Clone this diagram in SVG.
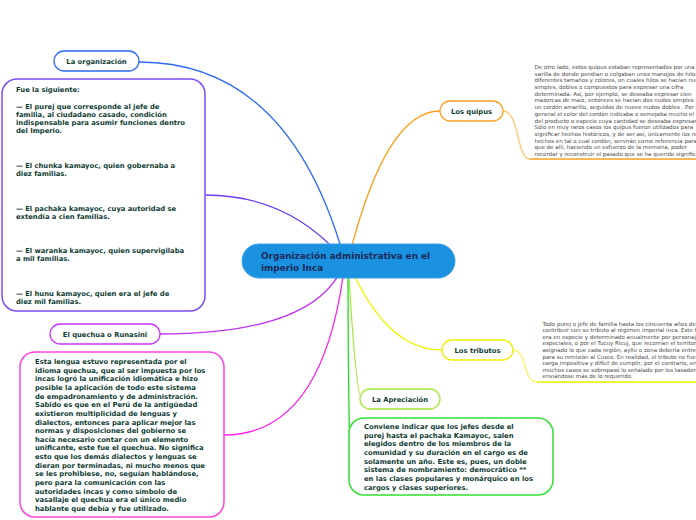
<svg xmlns="http://www.w3.org/2000/svg" width="696" height="520" viewBox="0 0 696 520">
<style>
.t{font-family:"DejaVu Sans",Verdana,sans-serif;font-weight:bold;font-size:6.8px;fill:#0f3d33}
.c{text-anchor:middle}
.r{font-family:"DejaVu Sans",Verdana,sans-serif;font-size:5.5px;fill:#4a4a4a}
.pill{fill:#fff;stroke-width:1.3}
.box{fill:#fff;stroke-width:1.5}
.ln{fill:none;stroke-width:1.3}
</style>
<rect width="696" height="520" fill="#fff"/>
<g id="connectors">
<path class="ln" d="M139 62 Q290 62 345 261" stroke="#2d6af5" stroke-width="1.5"/>
<path class="ln" d="M205 195 Q290 195 345 261" stroke="#6a3cf5"/>
<path class="ln" d="M160 334 Q320 334 345 261" stroke="#c030f0"/>
<path class="ln" d="M224 435 Q325 435 345 261" stroke="#ff22ee"/>
<path class="ln" d="M348 261 Q385 111 440 111" stroke="#ff9f1a"/>
<path class="ln" d="M503 111 C520 111 516 159 530 159" stroke="#ffc870"/>
<path class="ln" d="M530 159 L696 159" stroke="#ffa020" stroke-width="2"/>
<path class="ln" d="M348 261 Q385 350 442 350" stroke="#f2f200"/>
<path class="ln" d="M513 350 C528 350 522 382 537 382" stroke="#f5f560"/>
<path class="ln" d="M537 382 L696 382" stroke="#eeee00" stroke-width="2"/>
<path class="ln" d="M348 261 Q356 399 362 399" stroke="#a6e83a"/>
<path class="ln" d="M348 261 C348 350 349 420 350 456" stroke="#22dd22"/>
</g>
<g id="center">
<rect x="242" y="244" width="213" height="34" rx="17" fill="#1b92e0" stroke="#3aa0e8" stroke-width="1"/>
<text x="261" y="259" font-family="DejaVu Sans,Verdana,sans-serif" font-weight="bold" font-size="8.9" fill="#1a2a5a">Organización administrativa en el</text>
<text x="261" y="271" font-family="DejaVu Sans,Verdana,sans-serif" font-weight="bold" font-size="8.9" fill="#1a2a5a">imperio Inca</text>
</g>
<g id="la-organizacion">
<rect class="pill" x="54" y="51" width="85" height="20" rx="10" stroke="#2d6af5"/>
<text class="t c" x="96.5" y="64">La organización</text>
</g>
<g id="fue-la-siguiente">
<rect class="box" x="2" y="79" width="203" height="232" rx="15" stroke="#7b4cf8"/>
<text class="t" x="16" y="92.4">Fue la siguiente:</text>
<text class="t" x="16" y="109">— El purej que corresponde al jefe de</text>
<text class="t" x="16" y="117">familia, al ciudadano casado, condición</text>
<text class="t" x="16" y="125">indispensable para asumir funciones dentro</text>
<text class="t" x="16" y="133">del Imperio.</text>
<text class="t" x="16" y="168">— El chunka kamayoc, quien gobernaba a</text>
<text class="t" x="16" y="176">diez familias.</text>
<text class="t" x="16" y="210.7">— El pachaka kamayoc, cuya autoridad se</text>
<text class="t" x="16" y="218.7">extendía a cien familias.</text>
<text class="t" x="16" y="253">— El waranka kamayoc, quien supervigilaba</text>
<text class="t" x="16" y="261">a mil familias.</text>
<text class="t" x="16" y="295.7">— El hunu kamayoc, quien era el jefe de</text>
<text class="t" x="16" y="303.7">diez mil familias.</text>
</g>
<g id="el-quechua">
<rect class="pill" x="50" y="324" width="110" height="20" rx="10" stroke="#cc33ff"/>
<text class="t c" x="105" y="337">El quechua o Runasini</text>
</g>
<g id="esta-lengua">
<rect class="box" x="20" y="352" width="204" height="165" rx="15" stroke="#ff44dd"/>
<text class="t" x="35" y="364.1">Esta lengua estuvo representada por el</text>
<text class="t" x="35" y="372.7">idioma quechua, que al ser impuesta por los</text>
<text class="t" x="35" y="381.4">incas logró la unificación idiomática e hizo</text>
<text class="t" x="35" y="390">posible la aplicación de todo este sistema</text>
<text class="t" x="35" y="398.6">de empadronamiento y de administración.</text>
<text class="t" x="35" y="407.3">Sabido es que en el Perú de la antigüedad</text>
<text class="t" x="35" y="415.9">existieron multiplicidad de lenguas y</text>
<text class="t" x="35" y="424.5">dialectos, entonces para aplicar mejor las</text>
<text class="t" x="35" y="433.1">normas y disposiciones del gobierno se</text>
<text class="t" x="35" y="441.8">hacía necesario contar con un elemento</text>
<text class="t" x="35" y="450.4">unificante, este fue el quechua. No significa</text>
<text class="t" x="35" y="459">esto que los demás dialectos y lenguas se</text>
<text class="t" x="35" y="467.7">dieran por terminadas, ni mucho menos que</text>
<text class="t" x="35" y="476.3">se les prohibiese, no, seguían hablándose,</text>
<text class="t" x="35" y="484.9">pero para la comunicación con las</text>
<text class="t" x="35" y="493.6">autoridades incas y como símbolo de</text>
<text class="t" x="35" y="502.2">vasallaje el quechua era el único medio</text>
<text class="t" x="35" y="510.8">hablante que debía y fue utilizado.</text>
</g>
<g id="los-quipus">
<rect class="pill" x="440" y="101" width="63" height="20" rx="10" stroke="#ffa020"/>
<text class="t c" x="471.5" y="114">Los quipus</text>
</g>
<g id="quipus-text">
<text class="r" x="534.5" y="69.1">De otro lado, estos quipus estaban representados por una</text>
<text class="r" x="534.5" y="75.8">varilla de donde pendían o colgaban unos manojos de hilos de</text>
<text class="r" x="534.5" y="82.4">diferentes tamaños y colores, en cuales hilos se hacían nudos</text>
<text class="r" x="534.5" y="89.1">simples, dobles o compuestos para expresar una cifra</text>
<text class="r" x="534.5" y="95.8">determinada. Así, por ejemplo, se deseaba expresar cien</text>
<text class="r" x="534.5" y="102.4">mazorcas de maíz, entonces se hacían dos nudos simples en</text>
<text class="r" x="534.5" y="109.1">un cordón amarillo, seguidos de nueve nudos dobles . Por lo</text>
<text class="r" x="534.5" y="115.8">general el color del cordón indicaba o semejaba mucho el color</text>
<text class="r" x="534.5" y="122.5">del producto o especie cuya cantidad se deseaba expresar.</text>
<text class="r" x="534.5" y="129.1">Sólo en muy raros casos los quipus fueron utilizados para</text>
<text class="r" x="534.5" y="135.8">significar hechos históricos, y de ser así, únicamente los nudos</text>
<text class="r" x="534.5" y="142.5">hechos en tal o cual cordón, servirán como referencia para</text>
<text class="r" x="534.5" y="149.1">que de allí, haciendo un esfuerzo de la memoria, poder</text>
<text class="r" x="534.5" y="155.8">recordar y reconstruir el pasado que se ha querido significar.</text>
</g>
<g id="los-tributos">
<rect class="pill" x="442" y="340" width="71" height="20" rx="10" stroke="#eeee00"/>
<text class="t c" x="477.5" y="353">Los tributos</text>
</g>
<g id="tributos-text">
<text class="r" x="542.5" y="325.8">Todo purej o jefe de familia hasta los cincuenta años de edad</text>
<text class="r" x="542.5" y="332.3">contribuir con su tributo al régimen imperial inca. Este tributo</text>
<text class="r" x="542.5" y="338.9">era en especie y determinado anualmente por personajes</text>
<text class="r" x="542.5" y="345.4">especiales, o por el Tucuy Ricuj, que recorrían el territorio</text>
<text class="r" x="542.5" y="352">asignado lo que cada región, ayllu o zona debería entregar</text>
<text class="r" x="542.5" y="358.5">para su remisión al Cusco. En realidad, el tributo no fue una</text>
<text class="r" x="542.5" y="365">carga impositiva y difícil de cumplir, por el contrario, en</text>
<text class="r" x="542.5" y="371.6">muchos casos se sobrepasó lo señalado por los tasadores</text>
<text class="r" x="542.5" y="378.1">enviándose más de lo requerido.</text>
</g>
<g id="la-apreciacion">
<rect class="pill" x="360" y="389" width="80" height="20" rx="10" stroke="#a6e83a"/>
<text class="t c" x="400" y="402">La Apreciación</text>
</g>
<g id="conviene">
<rect class="box" x="349" y="418" width="204" height="77" rx="15" stroke="#33e033"/>
<text class="t" x="364" y="429.1">Conviene indicar que los jefes desde el</text>
<text class="t" x="364" y="437.8">purej hasta el pachaka Kamayoc, salen</text>
<text class="t" x="364" y="446.4">elegidos dentro de los miembros de la</text>
<text class="t" x="364" y="455.1">comunidad y su duración en el cargo es de</text>
<text class="t" x="364" y="463.8">solamente un año. Este es, pues, un doble</text>
<text class="t" x="364" y="472.4">sistema de nombramiento: democrático **</text>
<text class="t" x="364" y="481.1">en las clases populares y monárquico en los</text>
<text class="t" x="364" y="489.8">cargos y clases superiores.</text>
</g>
</svg>
